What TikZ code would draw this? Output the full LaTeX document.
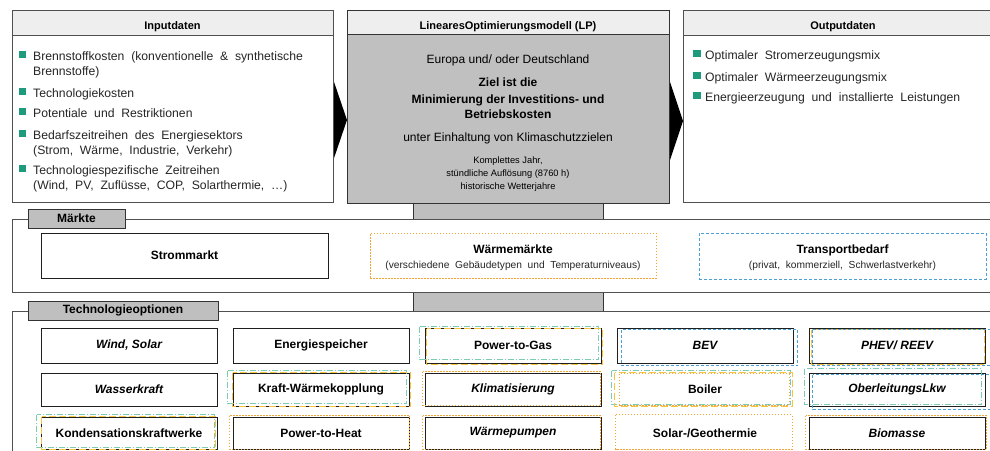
\documentclass[tikz,border=0pt]{standalone}
\usepackage{fontspec}
\setmainfont{Liberation Sans}
\newfontfamily\listfont[WordSpace=2]{Liberation Sans}
\definecolor{hdrgray}{HTML}{EEEEEE}
\definecolor{lpgray}{HTML}{C0C0C0}
\definecolor{tabgray}{HTML}{BFBFBF}
\definecolor{bulgreen}{HTML}{1E9A7C}
\definecolor{mint}{HTML}{7CCBB3}
\definecolor{amber}{HTML}{F7C340}
\definecolor{orangedot}{HTML}{F2A536}
\definecolor{skyblue}{HTML}{4B9FD5}
\definecolor{edge}{HTML}{505050}
\tikzset{
  frame/.style={draw=edge, line width=0.9pt},
  hdrtext/.style={font=\bfseries\fontsize{11}{13}\selectfont, inner sep=0pt, anchor=base},
  txt/.style={font=\fontsize{12}{14}\selectfont, inner sep=0pt},
  listtxt/.style={font=\listfont\fontsize{12.2}{14}\selectfont, inner sep=0pt, anchor=base west, text=black!85},
  subtxt/.style={font=\listfont\fontsize{10.2}{12}\selectfont, inner sep=0pt, anchor=base, text=black!85},
  txtb/.style={font=\bfseries\fontsize{12}{14}\selectfont, inner sep=0pt},
  small/.style={font=\fontsize{9.3}{11}\selectfont, inner sep=0pt},
  bullet/.style={fill=bulgreen, minimum size=7.5pt, inner sep=0pt},
  tab/.style={draw=black!80, fill=tabgray, line width=0.8pt, inner sep=0pt,
    font=\bfseries\fontsize{12}{14}\selectfont},
  chevron/.style={fill=black},
  cell/.style={font=\bfseries\fontsize{12}{14}\selectfont, inner sep=0pt,
    minimum width=176pt, fill=white},
  rowa/.style={minimum height=35pt},
  rowb/.style={minimum height=33pt},
  rowc/.style={minimum height=32pt},
  solidline/.style={draw=black!88, line width=1pt},
  mintline/.style={draw=mint, line width=0.9pt, dash pattern=on 6pt off 2pt on 1pt off 2pt},
  amberline/.style={draw=amber, line width=1.2pt, dash pattern=on 7pt off 3pt},
  dotline/.style={draw=orangedot, line width=0.9pt, dash pattern=on 1.5pt off 1.5pt},
  blueline/.style={draw=skyblue, line width=0.9pt, dash pattern=on 3pt off 2pt},
}
% outline drawn around a cell, offsets in px: left, top, right, bottom
\newcommand\olbox[6]{\draw[#1] ([shift={(#3,#4)}]#2.north west) rectangle ([shift={(#5,#6)}]#2.south east);}
\begin{document}
\begin{tikzpicture}[x=1pt,y=-1pt]
\useasboundingbox (0,0) rectangle (990,450);
\clip (0,0) rectangle (990,450);

% chevrons between the three top boxes
\fill[chevron] (332,76) -- (347,120) -- (332,164) -- cycle;
\fill[chevron] (668,76) -- (683,121) -- (668,166) -- cycle;

% gray links from the model down to the groups
\draw[draw=black!80, fill=tabgray, line width=0.8pt] (413,203) rectangle (603,219);
\draw[draw=black!80, fill=tabgray, line width=0.8pt] (413,292) rectangle (603,311);

% input box
\draw[frame, fill=white] (12,10) rectangle (333,202);
\draw[frame, fill=hdrgray] (12,10) rectangle (333,35);
\node[hdrtext] (inhdr) at (172.5,29) {Inputdaten};
\foreach \b in {60,97,117,139,174}{
  \node[bullet] at (22.5,\b-5.5) {};
}
\node[listtxt] (i1a) at (33,60) {Brennstoffkosten (konventionelle \& synthetische};
\node[listtxt] (i1b) at (33,75) {Brennstoffe)};
\node[listtxt] (i2) at (33,97) {Technologiekosten};
\node[listtxt] (i3) at (33,117) {Potentiale und Restriktionen};
\node[listtxt] (i4a) at (33,139) {Bedarfszeitreihen des Energiesektors};
\node[listtxt] (i4b) at (33,154) {(Strom, Wärme, Industrie, Verkehr)};
\node[listtxt] (i5a) at (33,174) {Technologiespezifische Zeitreihen};
\node[listtxt] (i5b) at (33,189) {(Wind, PV, Zuflüsse, COP, Solarthermie, \dots)};

% model box
\draw[draw=black!80, line width=0.9pt, fill=lpgray] (347,10) rectangle (669,203);
\draw[draw=black!80, line width=0.9pt, fill=hdrgray] (347,10) rectangle (669,34);
\node[hdrtext] (lphdr) at (508,29) {LinearesOptimierungsmodell (LP)};
\node[txt, anchor=base] (lp1) at (508,63) {Europa und/ oder Deutschland};
\node[txtb, anchor=base] (lp2) at (508,86) {Ziel ist die};
\node[txtb, anchor=base] (lp3) at (508,103) {Minimierung der Investitions- und};
\node[txtb, anchor=base] (lp4) at (508,118) {Betriebskosten};
\node[txt, anchor=base] (lp5) at (508,141) {unter Einhaltung von Klimaschutzzielen};
\node[small, anchor=base] (lp6) at (508,163) {Komplettes Jahr,};
\node[small, anchor=base] (lp7) at (508,176) {stündliche Auflösung (8760 h)};
\node[small, anchor=base] (lp8) at (508,189) {historische Wetterjahre};

% output box
\draw[frame, fill=white] (683,10) rectangle (1003,202);
\draw[frame, fill=hdrgray] (683,10) rectangle (1003,35);
\node[hdrtext] (outhdr) at (843,29) {Outputdaten};
\foreach \b in {59,81,101}{
  \node[bullet] at (697,\b-5.5) {};
}
\node[listtxt] (o1) at (705,59) {Optimaler Stromerzeugungsmix};
\node[listtxt] (o2) at (705,81) {Optimaler Wärmeerzeugungsmix};
\node[listtxt] (o3) at (705,101) {Energieerzeugung und installierte Leistungen};

% markets group
\draw[frame] (12,219) rectangle (1000,292);
\node[tab, minimum width=97pt, minimum height=19pt] (mtab) at (76.5,218.5) {Märkte};
\node[cell, solidline, minimum width=287pt, minimum height=45pt] (strom) at (184.5,255.5) {Strommarkt};
\node[cell, minimum width=286pt, minimum height=45pt, dotline] (waerme) at (513,255.5) {};
\node[txtb, anchor=base] (waermet) at (513,253) {Wärmemärkte};
\node[subtxt] (waermes) at (513,268) {(verschiedene Gebäudetypen und Temperaturniveaus)};
\node[cell, minimum width=287pt, minimum height=46pt, blueline] (trans) at (842.5,256) {};
\node[txtb, anchor=base] (transt) at (842.5,253) {Transportbedarf};
\node[subtxt] (transs) at (842.5,268) {(privat, kommerziell, Schwerlastverkehr)};

% technology group
\draw[frame] (12,311) rectangle (1000,470);
\node[tab, minimum width=190pt, minimum height=19pt] (ttab) at (123,310.5) {Technologieoptionen};

% row 1
\node[cell, rowa, solidline] (t11) at (129,345.5) {\itshape Wind, Solar};
\node[cell, rowa, solidline] (t12) at (321,345.5) {Energiespeicher};
\node[cell, rowa, solidline] (t13) at (513,345.5) {Power-to-Gas};
\node[cell, rowa, solidline] (t14) at (705,345.5) {\itshape BEV};
\node[cell, rowa, solidline] (t15) at (897,345.5) {\itshape PHEV/ REEV};
% row 2
\node[cell, rowb, solidline] (t21) at (129,389.5) {\itshape Wasserkraft};
\node[cell, rowb, solidline] (t22) at (321,389.5) {Kraft-Wärmekopplung};
\node[cell, rowb, solidline] (t23) at (513,389.5) {\itshape Klimatisierung};
\node[cell, rowb] (t24) at (705,389.5) {Boiler};
\node[cell, rowb, solidline] (t25) at (897,389.5) {\itshape OberleitungsLkw};
% row 3
\node[cell, rowc, solidline] (t31) at (129,433) {Kondensationskraftwerke};
\node[cell, rowc, solidline] (t32) at (321,433) {Power-to-Heat};
\node[cell, rowc, solidline] (t33) at (513,433) {\itshape Wärmepumpen};
\node[cell, rowc] (t34) at (705,433) {Solar-/Geothermie};
\node[cell, rowc, solidline] (t35) at (897,433) {\itshape Biomasse};

% category outlines around the cells
\olbox{mintline}{t13}{-5}{-1}{-3}{-4}
\olbox{amberline}{t13}{2}{1}{1}{1}
\olbox{blueline}{t14}{5}{2}{4}{2}
\olbox{amberline}{t15}{3}{2}{-1}{1}
\olbox{blueline}{t15}{4}{2}{5}{2}

\olbox{mintline}{t22}{-5}{-2}{-3}{-3}
\olbox{amberline}{t22}{0}{0}{1}{0}
\olbox{dotline}{t23}{-2}{-1}{-1}{-1}
\olbox{mintline}{t24}{-5}{-2}{-3}{-2}
\olbox{amberline}{t24}{-2}{0}{-1}{0}
\olbox{dotline}{t24}{3}{1}{-4}{-1}
\olbox{mintline}{t25}{-4}{-4}{-4}{-2}
\olbox{blueline}{t25}{4}{2}{5}{3}

\olbox{mintline}{t31}{-4}{-2}{-3}{-2}
\olbox{amberline}{t31}{1}{0}{-2}{0}
\olbox{dotline}{t32}{-3}{-1}{0}{0}
\olbox{dotline}{t33}{-2}{-1}{-1}{0}
\olbox{dotline}{t34}{-1}{-2}{-1}{0}
\olbox{dotline}{t35}{-3}{-1}{1}{0}
\end{tikzpicture}
\end{document}
